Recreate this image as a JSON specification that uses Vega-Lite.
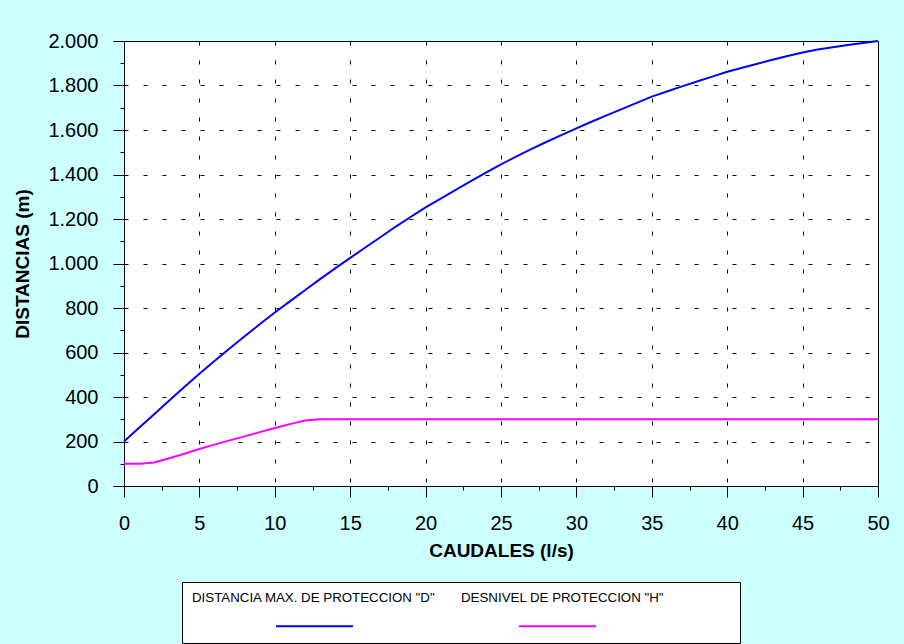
{
  "$schema": "https://vega.github.io/schema/vega-lite/v6.json",
  "width": 754,
  "height": 445,
  "autosize": "none",
  "padding": {"left": 124, "top": 41, "right": 26, "bottom": 158},
  "background": "#ccffff",
  "datasets": {
    "D": [
      {"Q": 0, "valor": 200}, {"Q": 1, "valor": 262}, {"Q": 2, "valor": 323}, {"Q": 3, "valor": 384},
      {"Q": 4, "valor": 445}, {"Q": 5, "valor": 505}, {"Q": 6, "valor": 562}, {"Q": 7, "valor": 618},
      {"Q": 8, "valor": 673}, {"Q": 9, "valor": 727}, {"Q": 10, "valor": 780}, {"Q": 11, "valor": 830},
      {"Q": 12, "valor": 880}, {"Q": 13, "valor": 930}, {"Q": 14, "valor": 978}, {"Q": 15, "valor": 1025},
      {"Q": 16, "valor": 1072}, {"Q": 17, "valor": 1118}, {"Q": 18, "valor": 1165}, {"Q": 19, "valor": 1209},
      {"Q": 20, "valor": 1252}, {"Q": 21, "valor": 1292}, {"Q": 22, "valor": 1331}, {"Q": 23, "valor": 1370},
      {"Q": 24, "valor": 1408}, {"Q": 25, "valor": 1446}, {"Q": 26, "valor": 1480}, {"Q": 27, "valor": 1514},
      {"Q": 28, "valor": 1546}, {"Q": 29, "valor": 1577}, {"Q": 30, "valor": 1607}, {"Q": 31, "valor": 1637},
      {"Q": 32, "valor": 1666}, {"Q": 33, "valor": 1694}, {"Q": 34, "valor": 1722}, {"Q": 35, "valor": 1750},
      {"Q": 36, "valor": 1773}, {"Q": 37, "valor": 1796}, {"Q": 38, "valor": 1818}, {"Q": 39, "valor": 1840},
      {"Q": 40, "valor": 1862}, {"Q": 41, "valor": 1880}, {"Q": 42, "valor": 1898}, {"Q": 43, "valor": 1916},
      {"Q": 44, "valor": 1933}, {"Q": 45, "valor": 1948}, {"Q": 46, "valor": 1962}, {"Q": 47, "valor": 1972},
      {"Q": 48, "valor": 1982}, {"Q": 49, "valor": 1991}, {"Q": 50, "valor": 2000}
    ],
    "H": [
      {"Q": 0, "valor": 100}, {"Q": 1, "valor": 100}, {"Q": 2, "valor": 106}, {"Q": 3, "valor": 125},
      {"Q": 4, "valor": 145}, {"Q": 5, "valor": 166}, {"Q": 6, "valor": 186}, {"Q": 7, "valor": 205},
      {"Q": 8, "valor": 223}, {"Q": 9, "valor": 242}, {"Q": 10, "valor": 261}, {"Q": 11, "valor": 278},
      {"Q": 12, "valor": 294}, {"Q": 13, "valor": 300}, {"Q": 20, "valor": 300}, {"Q": 30, "valor": 300},
      {"Q": 40, "valor": 300}, {"Q": 50, "valor": 300}
    ]
  },
  "layer": [
    {
      "data": {"name": "D"},
      "transform": [
        {"calculate": "'DISTANCIA MAX. DE PROTECCION \"D\"'", "as": "serie"},
        {"calculate": "datum.serie", "as": "etiqueta"}
      ],
      "mark": {"type": "line", "strokeWidth": 2},
      "encoding": {
        "x": {
          "field": "Q", "type": "quantitative",
          "scale": {"domain": [0, 50], "nice": false, "zero": false},
          "axis": {
            "orient": "bottom", "values": [2.5, 7.5, 12.5, 17.5, 22.5, 27.5, 32.5, 37.5, 42.5, 47.5],
            "tickSize": 4, "labels": false, "domain": false, "grid": false, "title": null
          }
        },
        "y": {
          "field": "valor", "type": "quantitative",
          "scale": {"domain": [0, 2000], "nice": false},
          "axis": {
            "orient": "left", "values": [100, 300, 500, 700, 900, 1100, 1300, 1500, 1700, 1900],
            "tickSize": 4, "labels": false, "domain": false, "grid": false, "title": null
          }
        },
        "color": {
          "field": "serie", "type": "nominal",
          "scale": {
            "domain": ["DISTANCIA MAX. DE PROTECCION \"D\"", "DESNIVEL DE PROTECCION \"H\""],
            "range": ["#0000ff", "#ff00ff"]
          },
          "legend": {
            "orient": "none", "legendX": 151, "legendY": 545.5, "zindex": 2,
            "direction": "horizontal", "columns": 2, "gridAlign": "all",
            "title": null, "symbolType": "stroke", "symbolSize": 5929, "symbolStrokeWidth": 2,
            "labelExpr": "''", "labelOffset": 0, "columnPadding": 158, "padding": 0
          }
        },
        "opacity": {
          "field": "etiqueta", "type": "nominal", "sort": "descending",
          "scale": {"range": [1, 1]},
          "legend": {
            "orient": "none", "legendX": 58, "legendY": 541, "zindex": 1,
            "direction": "horizontal", "columns": 2, "gridAlign": "each",
            "title": null, "symbolType": "square", "symbolSize": 1681, "symbolStrokeWidth": 0,
            "symbolOpacity": 0, "symbolOffset": 228,
            "labelFontSize": 13.3, "labelColor": "#000000", "labelLimit": 400,
            "labelAlign": "left", "labelBaseline": "alphabetic", "labelOffset": -269,
            "columnPadding": 0, "padding": 10,
            "strokeColor": "#000000", "fillColor": "#ffffff",
            "encode": {"labels": {"update": {"dy": {"value": -10.5}}}}
          }
        }
      }
    },
    {
      "data": {"name": "H"},
      "transform": [
        {"calculate": "'DESNIVEL DE PROTECCION \"H\"'", "as": "serie"},
        {"calculate": "datum.serie", "as": "etiqueta"}
      ],
      "mark": {"type": "line", "strokeWidth": 2},
      "encoding": {
        "x": {
          "field": "Q", "type": "quantitative",
          "axis": {
            "orient": "bottom", "values": [0, 5, 10, 15, 20, 25, 30, 35, 40, 45, 50],
            "tickSize": 11, "labelPadding": 16, "title": "CAUDALES (l/s)", "titlePadding": 8,
            "grid": true
          }
        },
        "y": {
          "field": "valor", "type": "quantitative",
          "axis": {
            "orient": "left", "values": [0, 200, 400, 600, 800, 1000, 1200, 1400, 1600, 1800, 2000],
            "labelExpr": "replace(format(datum.value, ','), ',', '.')",
            "tickSize": 11, "labelPadding": 15, "title": "DISTANCIAS (m)", "titlePadding": 15,
            "grid": true
          }
        },
        "color": {"field": "serie", "type": "nominal"},
        "opacity": {"field": "etiqueta", "type": "nominal", "sort": "descending"}
      }
    }
  ],
  "resolve": {"axis": {"x": "independent", "y": "independent"}},
  "config": {
    "font": "Liberation Sans",
    "view": {"stroke": "#000000", "strokeWidth": 1, "fill": "#ffffff"},
    "axis": {
      "domainColor": "#000000", "domainWidth": 1, "tickColor": "#000000", "tickWidth": 1,
      "labelColor": "#000000", "labelFontSize": 20, "labelFont": "Liberation Sans",
      "titleColor": "#000000", "titleFontSize": 19, "titleFontWeight": "bold", "titleFont": "Liberation Sans",
      "gridColor": "#000000", "gridOpacity": 1, "gridDash": [4, 15], "gridWidth": 1,
      "labelFlush": false, "labelOverlap": false
    },
    "legend": {"labelFont": "Liberation Sans"}
  }
}
